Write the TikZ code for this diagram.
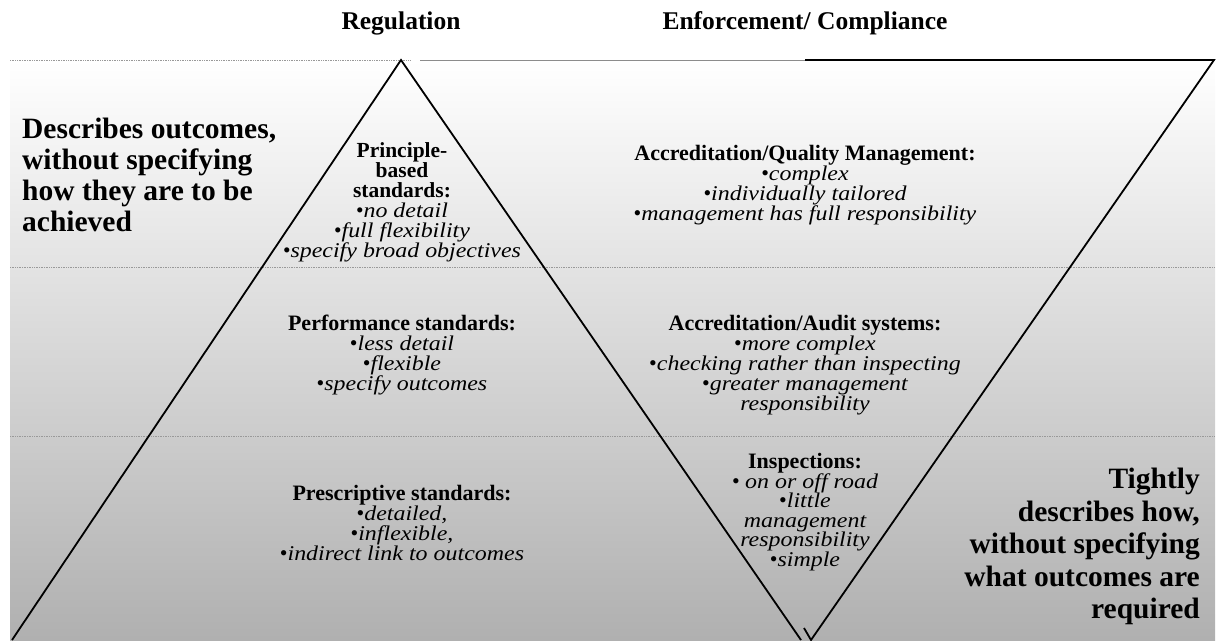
\documentclass[tikz,border=0pt]{standalone}
\usepackage{fontspec}
\setmainfont{Liberation Serif}[ItalicFeatures={FakeStretch=1.14}]
\newcommand{\bu}{{\upshape •}}
\newcommand{\itx}[1]{{\fontsize{21}{20}\selectfont\itshape #1}}
\begin{document}
\begin{tikzpicture}[x=1pt,y=-1pt,
  hdr/.style={font=\fontsize{25.5}{27}\selectfont\bfseries, inner sep=0},
  big/.style={font=\fontsize{29.5}{31}\selectfont\bfseries, inner sep=0},
  blk/.style={align=center, inner sep=0, font=\fontsize{22}{20}\selectfont},
  edge/.style={line width=1.8pt, black},
  sep/.style={black!40, densely dotted, line width=0.7pt}]
\useasboundingbox (0,0) rectangle (1220,640);
% background
\fill[top color=white, bottom color=black!31] (10,60) rectangle (1215,640);
\draw[sep] (10,60) -- (410,60);
\draw[black!45, line width=1pt] (420,60) -- (805,60);
\draw[sep] (10,267) -- (1215,267);
\draw[sep] (10,436) -- (1215,436);
% triangles
\coordinate (apex) at (401,60);
\coordinate (bl) at (12,640);
\coordinate (br) at (801,640);
\coordinate (itl) at (805,60);
\coordinate (itr) at (1214,60);
\coordinate (ib) at (811,640);
\coordinate (istub) at (804,628);
\draw[edge] (bl) -- (apex) -- (br);
\draw[edge] (itl) -- (itr) -- (ib) -- (istub);
% headers
\node[hdr] (h1) at (401,23) {Regulation};
\node[hdr] (h2) at (805,23) {Enforcement/ Compliance};
% side texts
\node[big, align=left, anchor=north west] (lt) at (22,118)
  {Describes outcomes,\\ without specifying\\ how they are to be\\ achieved};
\node[big, align=right, anchor=north east, font=\fontsize{29.5}{32.5}\selectfont\bfseries] (rt) at (1200,468)
  {Tightly\\ describes how,\\ without specifying\\ what outcomes are\\ required};
% regulation blocks
\node[blk, anchor=north, font=\fontsize{21.5}{20}\selectfont] (p1) at (402,142)
  {\textbf{Principle-}\\ \textbf{based}\\ \textbf{standards:}\\ \bu\itx{no detail}\\ \bu\itx{full flexibility}\\ \bu\itx{specify broad objectives}};
\node[blk, anchor=north] (p2) at (402,315)
  {\textbf{Performance standards:}\\ \bu\itx{less detail}\\ \bu\itx{flexible}\\ \bu\itx{specify outcomes}};
\node[blk, anchor=north] (p3) at (402,485)
  {\textbf{Prescriptive standards:}\\ \bu\itx{detailed,}\\ \bu\itx{inflexible,}\\ \bu\itx{indirect link to outcomes}};
% enforcement blocks
\node[blk, anchor=north] (e1) at (805,145)
  {\textbf{Accreditation/Quality Management:}\\ \bu\itx{complex}\\ \bu\itx{individually tailored}\\ \bu\itx{management has full responsibility}};
\node[blk, anchor=north] (e2) at (805,315)
  {\textbf{Accreditation/Audit systems:}\\ \bu\itx{more complex}\\ \bu\itx{checking rather than inspecting}\\ \bu\itx{greater management}\\ \itx{responsibility}};
\node[blk, anchor=north, font=\fontsize{22}{19.6}\selectfont] (e3) at (805,453)
  {\textbf{Inspections:}\\ \bu\ \itx{on or off road}\\ \bu\itx{little}\\ \itx{management}\\ \itx{responsibility}\\ \bu\itx{simple}};
\end{tikzpicture}
\end{document}
